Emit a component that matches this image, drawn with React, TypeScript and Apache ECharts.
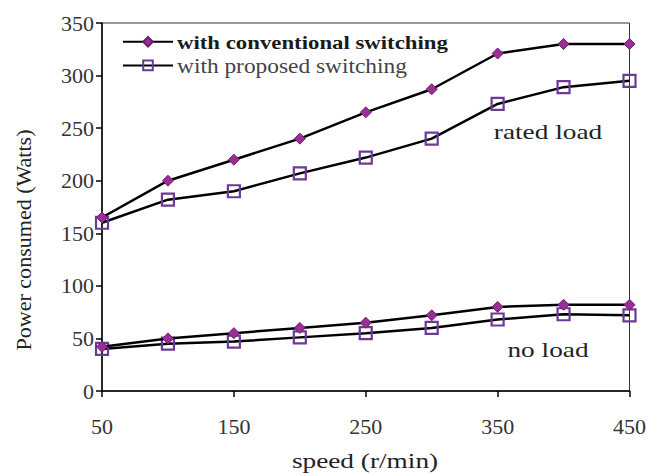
import React, { useEffect, useRef } from "react";
import * as echarts from "echarts";

const speeds = [50, 100, 150, 200, 250, 300, 350, 400, 450];
const convRated = [165, 200, 220, 240, 265, 287, 321, 330, 330];
const propRated = [160, 182, 190, 207, 222, 240, 273, 289, 295];
const convNoLoad = [42, 50, 55, 60, 65, 72, 80, 82, 82];
const propNoLoad = [40, 45, 47, 51, 55, 60, 68, 73, 72];
const convName = "with conventional switching";
const propName = "with proposed switching";

const FONT = "'Liberation Serif', 'Times New Roman', serif";

export default function App() {
  const ref = useRef<HTMLDivElement>(null);
  useEffect(() => {
    if (!ref.current) return;
    const chart = echarts.init(ref.current, undefined, { renderer: "svg" });
    const pair = (ys: number[]) => speeds.map((x, i) => [x, ys[i]]);
    const convStyle = {
      type: "line" as const,
      symbol: "diamond",
      symbolSize: 11,
      lineStyle: { color: "#000", width: 2.5 },
      itemStyle: { color: "#9a2e96", borderColor: "#6d1f6b", borderWidth: 1 },
    };
    const propStyle = {
      type: "line" as const,
      symbol: "rect",
      symbolSize: 12,
      lineStyle: { color: "#000", width: 2.5 },
      itemStyle: { color: "rgba(255,255,255,0)", borderColor: "#6b3a96", borderWidth: 2.2 },
    };
    const txt = (
      text: string,
      x: number,
      y: number,
      size: number,
      sx: number,
      opts: { bold?: boolean; color?: string; align?: string; rot?: number } = {}
    ) => ({
      type: "text",
      x,
      y,
      scaleX: sx,
      rotation: opts.rot || 0,
      style: {
        text,
        font: `${opts.bold ? "bold " : ""}${size}px ${FONT}`,
        fill: opts.color || "#222",
        align: opts.align || "center",
        verticalAlign: "middle",
      },
    });
    chart.setOption({
      animation: false,
      backgroundColor: "#fff",
      grid: { left: 102, right: 17, top: 23, bottom: 84, show: true, borderColor: "#333", borderWidth: 1 },
      legend: {
        left: 122,
        top: 36,
        padding: 0,
        orient: "vertical",
        itemGap: 12,
        itemWidth: 50,
        itemHeight: 12,
        data: [convName, propName],
        formatter: () => "",
        textStyle: { fontSize: 12, lineHeight: 12 },
      },
      xAxis: {
        type: "value",
        min: 50,
        max: 450,
        interval: 100,
        axisLine: { lineStyle: { color: "#000", width: 1.5 } },
        axisTick: { show: true, length: 6, lineStyle: { color: "#000", width: 1.5 } },
        axisLabel: { fontFamily: FONT, fontSize: 22, color: "#333", margin: 24 },
        splitLine: { show: false },
      },
      yAxis: {
        type: "value",
        min: 0,
        max: 350,
        interval: 50,
        axisLine: { show: true, lineStyle: { color: "#000", width: 1.5 } },
        axisTick: { show: true, length: 6, lineStyle: { color: "#000", width: 1.5 } },
        axisLabel: { fontFamily: FONT, fontSize: 22, color: "#333", margin: 8 },
        splitLine: { show: false },
      },
      graphic: [
        txt("Power consumed (Watts)", 24, 240, 21, 1.05, { rot: Math.PI / 2 }),
        txt("speed (r/min)", 365, 461, 21, 1.3),
        txt("rated load", 548, 132, 21, 1.3),
        txt("no load", 548, 350, 21, 1.3),
        txt(convName, 177, 43, 19, 1.2, { bold: true, color: "#1a1a1a", align: "left" }),
        txt(propName, 177, 67, 20, 1.17, { color: "#444", align: "left" }),
      ],
      series: [
        { ...convStyle, name: convName, data: pair(convRated), z: 3 },
        { ...propStyle, name: propName, data: pair(propRated), z: 2 },
        { ...convStyle, name: convName, data: pair(convNoLoad), z: 3 },
        { ...propStyle, name: propName, data: pair(propNoLoad), z: 2 },
      ],
    });
    return () => chart.dispose();
  }, []);
  return <div ref={ref} style={{ position: "fixed", left: 0, top: 0, width: 649, height: 475 }} />;
}
